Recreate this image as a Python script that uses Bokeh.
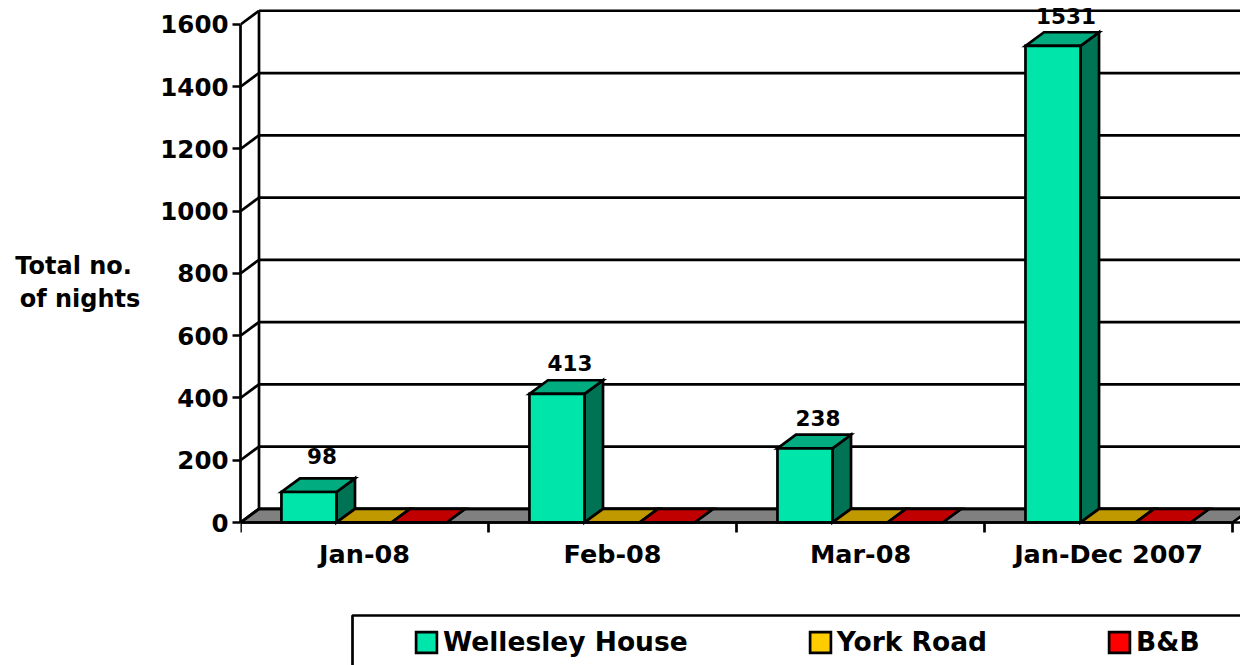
from bokeh.plotting import figure
from bokeh.models import Range1d, FixedTicker, Legend, LegendItem, BoxAnnotation, ColumnDataSource
from bokeh.core.properties import value
from bokeh.embed import file_html
from bokeh.resources import INLINE

categories = ["Jan-08", "Feb-08", "Mar-08", "Jan-Dec 2007"]
wellesley = [98, 413, 238, 1531]
york = [0, 0, 0, 0]
bnb = [0, 0, 0, 0]
y_ticks = [0, 200, 400, 600, 800, 1000, 1200, 1400, 1600]

series = [("Wellesley House", wellesley, "#00E5AA", "#00AC80", "#007355"),
          ("York Road", york, "#FFCC00", "#C09900", "#806600"),
          ("B&B", bnb, "#FF0000", "#C00000", "#800000")]

FONT = "DejaVu Sans"
DX, DY = 0.0746, 44      # depth of the 3-D box in data units
BAR_W, GROUP_START = 0.222, 0.165
LW = 2.7

p = figure(width=1240, height=665, output_backend="svg", toolbar_location=None,
           x_range=Range1d(0, 4.032), y_range=Range1d(-459.4, 1677),
           min_border_left=240, min_border_right=0, min_border_top=0, min_border_bottom=0,
           outline_line_color=None, background_fill_color="white", border_fill_color="white")
p.grid.visible = False

# floor
p.patch([0, 4, 4 + DX, DX], [0, 0, DY, DY], fill_color="#808080", line_color="black", line_width=LW)
# back wall grid, side wall
p.segment(x0=[DX] * len(y_ticks), y0=[v + DY for v in y_ticks],
          x1=[4.032 + DX] * len(y_ticks), y1=[v + DY for v in y_ticks], line_color="black", line_width=LW)
p.segment(x0=[0] * len(y_ticks), y0=y_ticks, x1=[DX] * len(y_ticks), y1=[v + DY for v in y_ticks],
          line_color="black", line_width=LW)
p.segment(x0=[DX], y0=[DY], x1=[DX], y1=[1600 + DY], line_color="black", line_width=LW)

legend_items = []
for s, (name, vals, front, top, side) in enumerate(series):
    lefts = [i + GROUP_START + s * BAR_W for i in range(len(vals))]
    rights = [l + BAR_W for l in lefts]
    xs_top = [[l, r, r + DX, l + DX] for l, r in zip(lefts, rights)]
    ys_top = [[v, v, v + DY, v + DY] for v in vals]
    xs_side = [[r, r + DX, r + DX, r] for r in rights]
    ys_side = [[0, DY, v + DY, v] for v in vals]
    p.patches(xs_side, ys_side, fill_color=side, line_color="black", line_width=LW, line_join="miter")
    p.patches(xs_top, ys_top, fill_color=top, line_color="black", line_width=LW, line_join="miter")
    r = p.vbar(x=[l + BAR_W / 2 for l in lefts], width=BAR_W, top=vals, bottom=0,
               fill_color=front, line_color="black", line_width=LW, line_join="miter")
    legend_items.append(LegendItem(label=value(name), renderers=[r]))

# data labels
labels = ColumnDataSource(dict(x=[i + GROUP_START + BAR_W / 2 + DX * 0.7 for i in range(4)],
                               y=[v + DY for v in wellesley],
                               t=[str(v) for v in wellesley],
                               lift=[-14, -9, -9, -8]))
p.text(x="x", y="y", text="t", source=labels, text_font=value(FONT), text_font_style="bold",
       text_font_size="21.5px", text_align="center", text_baseline="bottom", y_offset="lift",
       text_color="black", level="overlay")

# axes
xa = p.xaxis[0]
xa.fixed_location = 0
xa.ticker = FixedTicker(ticks=[i + 0.5 for i in range(4)], minor_ticks=[0, 1, 2, 3, 4])
xa.major_label_overrides = {i + 0.5: c for i, c in enumerate(categories)}
xa.major_tick_line_color = None
xa.minor_tick_out = 10
xa.minor_tick_in = 0
xa.minor_tick_line_width = LW
xa.minor_tick_line_color = "black"
xa.axis_line_width = LW
xa.axis_line_color = "black"
xa.major_label_text_font = FONT
xa.major_label_text_font_style = "bold"
xa.major_label_text_font_size = "25.5px"
xa.major_label_text_color = "black"
xa.major_label_standoff = 6

ya = p.yaxis[0]
ya.ticker = FixedTicker(ticks=y_ticks)
ya.bounds = (0, 1600)
ya.major_tick_out = 8
ya.major_tick_in = 0
ya.minor_tick_out = 0
ya.minor_tick_in = 0
ya.major_tick_line_width = LW
ya.major_tick_line_color = "black"
ya.axis_line_width = LW
ya.axis_line_color = "black"
ya.major_label_text_font = FONT
ya.major_label_text_font_style = "bold"
ya.major_label_text_font_size = "24.5px"
ya.major_label_text_color = "black"
ya.major_label_standoff = 4
ya.axis_label = "Total no. \nof nights\n\n\n"
ya.axis_label_orientation = "horizontal"
ya.axis_label_text_font = FONT
ya.axis_label_text_font_style = "bold"
ya.axis_label_text_font_size = "24px"
ya.axis_label_text_line_height = 1.2
ya.axis_label_text_color = "black"
ya.axis_label_standoff = 17

# legend
box = BoxAnnotation(left=112, right=1060, top=50, bottom=-35,
                    left_units="screen", right_units="screen", top_units="screen", bottom_units="screen",
                    fill_alpha=0, line_color="black", line_alpha=1, line_width=LW)
p.add_layout(box)
legend = Legend(items=legend_items, orientation="horizontal", location=(173, 8), margin=0, padding=12,
                spacing=119, glyph_width=26, glyph_height=26, label_standoff=4,
                label_text_font=FONT, label_text_font_style="bold", label_text_font_size="26.5px",
                label_text_color="black", border_line_color=None, background_fill_alpha=0)
p.add_layout(legend, "center")

open("out.html", "w").write(file_html(p, INLINE))
